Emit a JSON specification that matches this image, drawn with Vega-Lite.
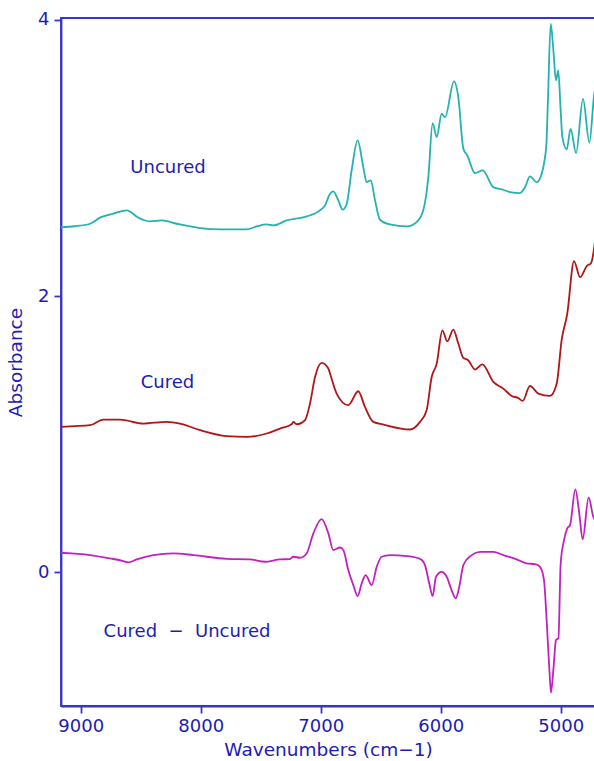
{
  "$schema": "https://vega.github.io/schema/vega-lite/v6.json",
  "autosize": {"type": "none"},
  "padding": {"left": 61, "top": 18, "right": 0, "bottom": 55},
  "width": 534,
  "height": 688,
  "background": "white",
  "config": {
    "view": {"stroke": "#3535c8", "strokeWidth": 1.8},
    "font": "DejaVu Sans",
    "axis": {
      "grid": false,
      "domainColor": "#3535c8",
      "domainWidth": 1.8,
      "tickColor": "#3535c8",
      "tickWidth": 1.8,
      "tickSize": 7,
      "labelColor": "#1c1cb4",
      "titleColor": "#1c1cb4",
      "labelFont": "DejaVu Sans",
      "titleFont": "DejaVu Sans",
      "labelFontSize": 18,
      "titleFontSize": 18.5,
      "titleFontWeight": "normal"
    }
  },
  "datasets": {
    "spectra": [
      {"w": 9164, "A": 2.499, "s": "Uncured"},
      {"w": 9050, "A": 2.505, "s": "Uncured"},
      {"w": 8922, "A": 2.523, "s": "Uncured"},
      {"w": 8839, "A": 2.567, "s": "Uncured"},
      {"w": 8728, "A": 2.596, "s": "Uncured"},
      {"w": 8617, "A": 2.62, "s": "Uncured"},
      {"w": 8520, "A": 2.567, "s": "Uncured"},
      {"w": 8422, "A": 2.54, "s": "Uncured"},
      {"w": 8325, "A": 2.547, "s": "Uncured"},
      {"w": 8200, "A": 2.523, "s": "Uncured"},
      {"w": 8006, "A": 2.492, "s": "Uncured"},
      {"w": 7839, "A": 2.482, "s": "Uncured"},
      {"w": 7617, "A": 2.482, "s": "Uncured"},
      {"w": 7533, "A": 2.504, "s": "Uncured"},
      {"w": 7450, "A": 2.518, "s": "Uncured"},
      {"w": 7395, "A": 2.511, "s": "Uncured"},
      {"w": 7283, "A": 2.547, "s": "Uncured"},
      {"w": 7117, "A": 2.576, "s": "Uncured"},
      {"w": 7006, "A": 2.62, "s": "Uncured"},
      {"w": 6964, "A": 2.656, "s": "Uncured"},
      {"w": 6922, "A": 2.74, "s": "Uncured"},
      {"w": 6895, "A": 2.757, "s": "Uncured"},
      {"w": 6853, "A": 2.692, "s": "Uncured"},
      {"w": 6817, "A": 2.625, "s": "Uncured"},
      {"w": 6783, "A": 2.668, "s": "Uncured"},
      {"w": 6742, "A": 2.909, "s": "Uncured"},
      {"w": 6692, "A": 3.126, "s": "Uncured"},
      {"w": 6645, "A": 2.933, "s": "Uncured"},
      {"w": 6617, "A": 2.824, "s": "Uncured"},
      {"w": 6583, "A": 2.837, "s": "Uncured"},
      {"w": 6547, "A": 2.692, "s": "Uncured"},
      {"w": 6506, "A": 2.552, "s": "Uncured"},
      {"w": 6422, "A": 2.518, "s": "Uncured"},
      {"w": 6283, "A": 2.504, "s": "Uncured"},
      {"w": 6200, "A": 2.535, "s": "Uncured"},
      {"w": 6145, "A": 2.62, "s": "Uncured"},
      {"w": 6103, "A": 2.86, "s": "Uncured"},
      {"w": 6067, "A": 3.251, "s": "Uncured"},
      {"w": 6033, "A": 3.15, "s": "Uncured"},
      {"w": 5992, "A": 3.319, "s": "Uncured"},
      {"w": 5964, "A": 3.294, "s": "Uncured"},
      {"w": 5889, "A": 3.553, "s": "Uncured"},
      {"w": 5853, "A": 3.439, "s": "Uncured"},
      {"w": 5811, "A": 3.066, "s": "Uncured"},
      {"w": 5778, "A": 3.017, "s": "Uncured"},
      {"w": 5714, "A": 2.889, "s": "Uncured"},
      {"w": 5650, "A": 2.909, "s": "Uncured"},
      {"w": 5561, "A": 2.788, "s": "Uncured"},
      {"w": 5478, "A": 2.769, "s": "Uncured"},
      {"w": 5422, "A": 2.752, "s": "Uncured"},
      {"w": 5339, "A": 2.745, "s": "Uncured"},
      {"w": 5297, "A": 2.788, "s": "Uncured"},
      {"w": 5256, "A": 2.866, "s": "Uncured"},
      {"w": 5200, "A": 2.824, "s": "Uncured"},
      {"w": 5158, "A": 2.885, "s": "Uncured"},
      {"w": 5135, "A": 2.98, "s": "Uncured"},
      {"w": 5119, "A": 3.1, "s": "Uncured"},
      {"w": 5106, "A": 3.42, "s": "Uncured"},
      {"w": 5083, "A": 3.97, "s": "Uncured"},
      {"w": 5061, "A": 3.78, "s": "Uncured"},
      {"w": 5039, "A": 3.56, "s": "Uncured"},
      {"w": 5020, "A": 3.632, "s": "Uncured"},
      {"w": 5000, "A": 3.34, "s": "Uncured"},
      {"w": 4986, "A": 3.15, "s": "Uncured"},
      {"w": 4950, "A": 3.062, "s": "Uncured"},
      {"w": 4917, "A": 3.21, "s": "Uncured"},
      {"w": 4872, "A": 3.034, "s": "Uncured"},
      {"w": 4814, "A": 3.427, "s": "Uncured"},
      {"w": 4761, "A": 3.11, "s": "Uncured"},
      {"w": 4722, "A": 3.45, "s": "Uncured"},
      {"w": 4714, "A": 3.5, "s": "Uncured"},

      {"w": 9164, "A": 1.053, "s": "Cured"},
      {"w": 9050, "A": 1.058, "s": "Cured"},
      {"w": 8922, "A": 1.065, "s": "Cured"},
      {"w": 8811, "A": 1.106, "s": "Cured"},
      {"w": 8672, "A": 1.106, "s": "Cured"},
      {"w": 8478, "A": 1.077, "s": "Cured"},
      {"w": 8283, "A": 1.089, "s": "Cured"},
      {"w": 8172, "A": 1.077, "s": "Cured"},
      {"w": 8006, "A": 1.029, "s": "Cured"},
      {"w": 7783, "A": 0.986, "s": "Cured"},
      {"w": 7617, "A": 0.981, "s": "Cured"},
      {"w": 7450, "A": 1.005, "s": "Cured"},
      {"w": 7339, "A": 1.041, "s": "Cured"},
      {"w": 7242, "A": 1.072, "s": "Cured"},
      {"w": 7228, "A": 1.089, "s": "Cured"},
      {"w": 7200, "A": 1.072, "s": "Cured"},
      {"w": 7131, "A": 1.101, "s": "Cured"},
      {"w": 7089, "A": 1.222, "s": "Cured"},
      {"w": 7047, "A": 1.414, "s": "Cured"},
      {"w": 6992, "A": 1.516, "s": "Cured"},
      {"w": 6936, "A": 1.475, "s": "Cured"},
      {"w": 6922, "A": 1.439, "s": "Cured"},
      {"w": 6867, "A": 1.294, "s": "Cured"},
      {"w": 6770, "A": 1.21, "s": "Cured"},
      {"w": 6687, "A": 1.311, "s": "Cured"},
      {"w": 6631, "A": 1.197, "s": "Cured"},
      {"w": 6561, "A": 1.089, "s": "Cured"},
      {"w": 6478, "A": 1.07, "s": "Cured"},
      {"w": 6256, "A": 1.034, "s": "Cured"},
      {"w": 6172, "A": 1.089, "s": "Cured"},
      {"w": 6117, "A": 1.174, "s": "Cured"},
      {"w": 6075, "A": 1.414, "s": "Cured"},
      {"w": 6033, "A": 1.511, "s": "Cured"},
      {"w": 5986, "A": 1.752, "s": "Cured"},
      {"w": 5945, "A": 1.672, "s": "Cured"},
      {"w": 5895, "A": 1.757, "s": "Cured"},
      {"w": 5853, "A": 1.656, "s": "Cured"},
      {"w": 5811, "A": 1.552, "s": "Cured"},
      {"w": 5770, "A": 1.535, "s": "Cured"},
      {"w": 5714, "A": 1.468, "s": "Cured"},
      {"w": 5653, "A": 1.506, "s": "Cured"},
      {"w": 5561, "A": 1.378, "s": "Cured"},
      {"w": 5478, "A": 1.33, "s": "Cured"},
      {"w": 5408, "A": 1.277, "s": "Cured"},
      {"w": 5353, "A": 1.262, "s": "Cured"},
      {"w": 5317, "A": 1.241, "s": "Cured"},
      {"w": 5256, "A": 1.349, "s": "Cured"},
      {"w": 5186, "A": 1.294, "s": "Cured"},
      {"w": 5089, "A": 1.277, "s": "Cured"},
      {"w": 5033, "A": 1.367, "s": "Cured"},
      {"w": 4992, "A": 1.68, "s": "Cured"},
      {"w": 4945, "A": 1.873, "s": "Cured"},
      {"w": 4889, "A": 2.253, "s": "Cured"},
      {"w": 4839, "A": 2.137, "s": "Cured"},
      {"w": 4778, "A": 2.222, "s": "Cured"},
      {"w": 4750, "A": 2.234, "s": "Cured"},
      {"w": 4722, "A": 2.343, "s": "Cured"},
      {"w": 4714, "A": 2.4, "s": "Cured"},

      {"w": 9164, "A": 0.142, "s": "Diff"},
      {"w": 9050, "A": 0.135, "s": "Diff"},
      {"w": 8922, "A": 0.125, "s": "Diff"},
      {"w": 8756, "A": 0.101, "s": "Diff"},
      {"w": 8645, "A": 0.082, "s": "Diff"},
      {"w": 8603, "A": 0.072, "s": "Diff"},
      {"w": 8533, "A": 0.094, "s": "Diff"},
      {"w": 8395, "A": 0.125, "s": "Diff"},
      {"w": 8228, "A": 0.137, "s": "Diff"},
      {"w": 8061, "A": 0.125, "s": "Diff"},
      {"w": 7783, "A": 0.098, "s": "Diff"},
      {"w": 7589, "A": 0.094, "s": "Diff"},
      {"w": 7464, "A": 0.077, "s": "Diff"},
      {"w": 7339, "A": 0.094, "s": "Diff"},
      {"w": 7256, "A": 0.096, "s": "Diff"},
      {"w": 7228, "A": 0.113, "s": "Diff"},
      {"w": 7172, "A": 0.106, "s": "Diff"},
      {"w": 7117, "A": 0.137, "s": "Diff"},
      {"w": 7061, "A": 0.282, "s": "Diff"},
      {"w": 6992, "A": 0.385, "s": "Diff"},
      {"w": 6936, "A": 0.282, "s": "Diff"},
      {"w": 6895, "A": 0.161, "s": "Diff"},
      {"w": 6839, "A": 0.18, "s": "Diff"},
      {"w": 6811, "A": 0.161, "s": "Diff"},
      {"w": 6770, "A": 0.017, "s": "Diff"},
      {"w": 6728, "A": -0.092, "s": "Diff"},
      {"w": 6692, "A": -0.171, "s": "Diff"},
      {"w": 6658, "A": -0.08, "s": "Diff"},
      {"w": 6625, "A": -0.02, "s": "Diff"},
      {"w": 6575, "A": -0.092, "s": "Diff"},
      {"w": 6533, "A": 0.04, "s": "Diff"},
      {"w": 6492, "A": 0.113, "s": "Diff"},
      {"w": 6422, "A": 0.125, "s": "Diff"},
      {"w": 6283, "A": 0.118, "s": "Diff"},
      {"w": 6172, "A": 0.098, "s": "Diff"},
      {"w": 6131, "A": 0.053, "s": "Diff"},
      {"w": 6095, "A": -0.08, "s": "Diff"},
      {"w": 6067, "A": -0.171, "s": "Diff"},
      {"w": 6039, "A": -0.032, "s": "Diff"},
      {"w": 5992, "A": 0.004, "s": "Diff"},
      {"w": 5950, "A": -0.032, "s": "Diff"},
      {"w": 5909, "A": -0.128, "s": "Diff"},
      {"w": 5875, "A": -0.188, "s": "Diff"},
      {"w": 5845, "A": -0.104, "s": "Diff"},
      {"w": 5811, "A": 0.053, "s": "Diff"},
      {"w": 5742, "A": 0.125, "s": "Diff"},
      {"w": 5672, "A": 0.149, "s": "Diff"},
      {"w": 5561, "A": 0.149, "s": "Diff"},
      {"w": 5478, "A": 0.125, "s": "Diff"},
      {"w": 5367, "A": 0.094, "s": "Diff"},
      {"w": 5283, "A": 0.065, "s": "Diff"},
      {"w": 5214, "A": 0.06, "s": "Diff"},
      {"w": 5172, "A": 0.04, "s": "Diff"},
      {"w": 5139, "A": -0.056, "s": "Diff"},
      {"w": 5117, "A": -0.345, "s": "Diff"},
      {"w": 5094, "A": -0.706, "s": "Diff"},
      {"w": 5081, "A": -0.871, "s": "Diff"},
      {"w": 5061, "A": -0.706, "s": "Diff"},
      {"w": 5039, "A": -0.49, "s": "Diff"},
      {"w": 5019, "A": -0.477, "s": "Diff"},
      {"w": 5000, "A": 0.065, "s": "Diff"},
      {"w": 4972, "A": 0.234, "s": "Diff"},
      {"w": 4945, "A": 0.318, "s": "Diff"},
      {"w": 4922, "A": 0.342, "s": "Diff"},
      {"w": 4878, "A": 0.6, "s": "Diff"},
      {"w": 4845, "A": 0.427, "s": "Diff"},
      {"w": 4817, "A": 0.239, "s": "Diff"},
      {"w": 4767, "A": 0.542, "s": "Diff"},
      {"w": 4728, "A": 0.402, "s": "Diff"},
      {"w": 4714, "A": 0.38, "s": "Diff"}
    ],
    "labels": [
      {"label": "Uncured", "w": 8272, "A": 2.923},
      {"label": "Cured", "w": 8277, "A": 1.372},
      {"label": "Cured \u00a0\u2212\u00a0 Uncured", "w": 8114, "A": -0.428}
    ]
  },
  "layer": [
    {
      "data": {"name": "spectra"},
      "mark": {"type": "line", "strokeWidth": 1.8, "interpolate": "monotone", "clip": true},
      "encoding": {
        "x": {
          "field": "w", "type": "quantitative",
          "scale": {"domain": [4714, 9164], "reverse": true, "nice": false, "zero": false},
          "axis": {"values": [9000, 8000, 7000, 6000, 5000], "format": "d", "labelPadding": 4, "title": "Wavenumbers (cm\u22121)", "titlePadding": 5, "labelFlush": false}
        },
        "y": {
          "field": "A", "type": "quantitative",
          "scale": {"domain": [-0.967, 4.012], "nice": false, "zero": false},
          "axis": {"values": [0, 2, 4], "format": "d", "labelPadding": 5, "title": "Absorbance", "titlePadding": 12, "labelFlush": false}
        },
        "color": {
          "field": "s", "type": "nominal",
          "scale": {"domain": ["Uncured", "Cured", "Diff"], "range": ["#22b3b0", "#b01616", "#c021c0"]},
          "legend": null
        },
        "detail": {"field": "s"}
      }
    },
    {
      "data": {"name": "labels"},
      "mark": {"type": "text", "fontSize": 18, "color": "#1c1cb4", "align": "center", "baseline": "middle"},
      "encoding": {
        "x": {"field": "w", "type": "quantitative"},
        "y": {"field": "A", "type": "quantitative"},
        "text": {"field": "label"}
      }
    }
  ]
}
